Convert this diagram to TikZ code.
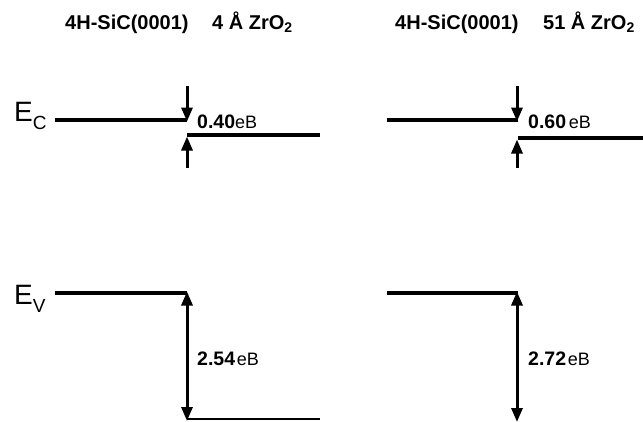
\documentclass[tikz,border=0pt]{standalone}
\usepackage{fontspec}
\setmainfont{Liberation Sans}
\usetikzlibrary{arrows.meta}
\tikzset{
  level/.style={line width=3.4pt},
  thinlevel/.style={line width=2pt},
  offarrow/.style={line width=3pt,-{Triangle[length=14pt,width=11pt]}},
  gaparrow/.style={line width=3pt,{Triangle[length=14pt,width=11pt]}-{Triangle[length=14pt,width=11pt]}},
  title/.style={anchor=base west,inner sep=0pt,font=\fontsize{20}{22}\selectfont\bfseries},
  val/.style={anchor=base west,inner sep=0pt},
  band/.style={anchor=base west,inner sep=0pt,font=\fontsize{28}{30}\selectfont}
}
\newcommand{\num}[1]{{\fontsize{19.5}{21}\selectfont\bfseries #1}}
\newcommand{\unitEB}{{\fontsize{18}{20}\selectfont eB}}
\begin{document}
\begin{tikzpicture}[x=1pt,y=-1pt]
\useasboundingbox (0,0) rectangle (643,421);
% titles
\node[title] (t1) at (65,29) {4H-SiC(0001)};
\node[title] (t2) at (212,29) {4 Å ZrO\textsubscript{2}};
\node[title] (t3) at (395,29) {4H-SiC(0001)};
\node[title] (t4) at (543,29) {51 Å ZrO\textsubscript{2}};
% band labels
\node[band] (ec) at (14,121) {E\raisebox{-8pt}{\fontsize{19}{20}\selectfont C}};
\node[band] (ev) at (14,304) {E\raisebox{-8pt}{\fontsize{19}{20}\selectfont V}};
% coordinates, left panel
\coordinate (lc1) at (55,120);
\coordinate (lc2) at (187,120);
\coordinate (lc3) at (187,135);
\coordinate (lc4) at (320,135);
\coordinate (lcd) at (187,86);
\coordinate (lcu) at (187,168);
\coordinate (lv1) at (55,293);
\coordinate (lv2) at (187,293);
\coordinate (lv3) at (187,421);
\coordinate (lv4) at (320,419);
\coordinate (lv3b) at (187,419);
% right panel
\coordinate (rc1) at (387,120);
\coordinate (rc2) at (518,120);
\coordinate (rc3) at (518,138);
\coordinate (rc4) at (643,138);
\coordinate (rcd) at (517,86);
\coordinate (rcu) at (517,168);
\coordinate (rv1) at (387,293);
\coordinate (rv2) at (518,293);
\coordinate (rv3) at (517,422);
% levels
\draw[level] (lc1) -- (lc2);
\draw[level] (lc3) -- (lc4);
\draw[level] (lv1) -- (lv2);
\draw[thinlevel] (lv3b) -- (lv4);
\draw[level] (rc1) -- (rc2);
\draw[level] (rc3) -- (rc4);
\draw[level] (rv1) -- (rv2);
% arrows
\draw[offarrow] (lcd) -- ([yshift=-1.5pt]lc2);
\draw[offarrow] (lcu) -- ([yshift=-1.5pt]lc3);
\draw[gaparrow] ([yshift=1.5pt]lv2) -- (lv3);
\draw[offarrow] (rcd) -- ([xshift=-1pt,yshift=-1.5pt]rc2);
\draw[offarrow] (rcu) -- ([xshift=-1pt,yshift=-1.5pt]rc3);
\draw[gaparrow] ([xshift=-1pt,yshift=1.5pt]rv2) -- (rv3);
% values
\node[val] (v1) at (197,128) {\num{0.40}\unitEB};
\node[val] (v2) at (528,128) {\num{0.60} \unitEB};
\node[val] (v3) at (197,365) {\num{2.54}\,\unitEB};
\node[val] (v4) at (528,365) {\num{2.72}\,\unitEB};
\end{tikzpicture}
\end{document}
